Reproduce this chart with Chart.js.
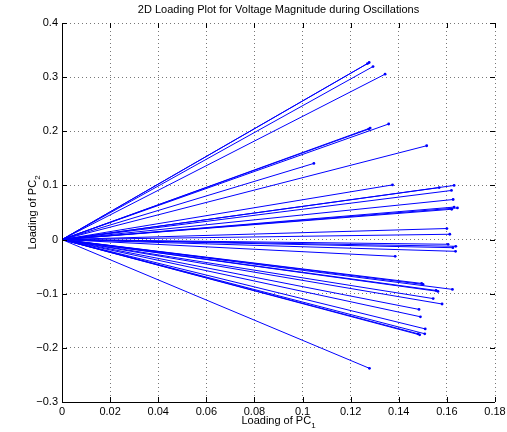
<!DOCTYPE html>
<html>
<head>
<meta charset="utf-8">
<script src="https://cdn.jsdelivr.net/npm/chart.js@4"></script>
<style>
  html, body { margin: 0; padding: 0; background: #fff; }
  #wrap { width: 507px; height: 432px; }
</style>
</head>
<body>
<div id="wrap"><canvas id="c" width="507" height="432"></canvas></div>
<script>
(function () {
	'use strict';

	// loadings (one line per variable, from the origin)
	var pc1Loadings = [
		0.1277, 0.1270, 0.1293, 0.1343, 0.1281, 0.1275, 0.1358, 0.1047, 0.1516,
		0.1374, 0.1630, 0.1619, 0.1568, 0.1626, 0.1644, 0.1620, 0.1630,
		0.1600, 0.1612, 0.1605, 0.1637, 0.1636, 0.1625, 0.1385,
		0.1501, 0.1495, 0.1623, 0.1563, 0.1555, 0.1543, 0.1580, 0.1484,
		0.1490, 0.1510, 0.1508, 0.1487, 0.1480, 0.1278
	];
	var pc2Loadings = [
		0.327, 0.325, 0.3196, 0.3055, 0.206, 0.204, 0.2135, 0.1407, 0.1733,
		0.101, 0.100, 0.0907, 0.096, 0.074, 0.0585, 0.056, 0.060,
		0.0204, 0.0098, -0.0087, -0.0124, -0.0217, -0.015, -0.031,
		-0.0828, -0.081, -0.092, -0.0957, -0.094, -0.109, -0.119, -0.129,
		-0.1426, -0.165, -0.174, -0.176, -0.174, -0.2378
	];
	var xTicks = [0, 0.02, 0.04, 0.06, 0.08, 0.1, 0.12, 0.14, 0.16, 0.18];
	var yTicks = [-0.3, -0.2, -0.1, 0, 0.1, 0.2, 0.3, 0.4];

	var chartTitle = '2D Loading Plot for Voltage Magnitude during Oscillations';
	var xTitle = ['Loading of PC', '1'];
	var yTitle = ['Loading of PC', '2'];
	var fontFamily = '"Liberation Sans", Arial, Helvetica, sans-serif';

	var datasets = pc1Loadings.map(function (x, i) {
		return {
			data: [{x: 0, y: 0}, {x: x, y: pc2Loadings[i]}],
			borderColor: '#0000ff',
			backgroundColor: '#0000ff',
			borderWidth: 1,
			pointRadius: [0, 1.4],
			pointBorderWidth: 0,
			showLine: true,
			fill: false
		};
	});

	function fmt(v) {
		var s = String(parseFloat(v.toFixed(2)));
		return s.charAt(0) === '-' ? '\u2212' + s.slice(1) : s;
	}

	var decor = {
		id: 'decor',
		afterDraw: function (chart) {
			var ctx = chart.ctx, a = chart.chartArea;
			var xs = chart.scales.x, ys = chart.scales.y;
			ctx.save();
			ctx.strokeStyle = '#000';
			ctx.lineWidth = 1;
			ctx.beginPath();
			ctx.moveTo(a.left + 0.5, a.top);
			ctx.lineTo(a.left + 0.5, a.bottom + 0.5);
			ctx.lineTo(a.right, a.bottom + 0.5);
			// inward ticks
			xTicks.forEach(function (t) {
				var px = Math.round(xs.getPixelForValue(t)) + 0.5;
				ctx.moveTo(px, a.bottom);
				ctx.lineTo(px, a.bottom - 5);
				ctx.moveTo(px, a.top);
				ctx.lineTo(px, a.top + 5);
			});
			yTicks.forEach(function (t) {
				var py = Math.round(ys.getPixelForValue(t)) + 0.5;
				ctx.moveTo(a.left, py);
				ctx.lineTo(a.left + 5, py);
				ctx.moveTo(a.right, py);
				ctx.lineTo(a.right - 5, py);
			});
			ctx.stroke();

			ctx.fillStyle = '#000';
			ctx.textBaseline = 'middle';
			ctx.textAlign = 'center';
			ctx.font = '11px ' + fontFamily;
			ctx.fillText(chartTitle, (a.left + a.right) / 2, 10);

			// x title with subscript
			var w1 = ctx.measureText(xTitle[0]).width;
			ctx.font = '8px ' + fontFamily;
			var w2 = ctx.measureText(xTitle[1]).width;
			var cx = (a.left + a.right) / 2 - (w1 + w2) / 2;
			ctx.textAlign = 'left';
			ctx.font = '11px ' + fontFamily;
			ctx.fillText(xTitle[0], cx, 421);
			ctx.font = '8px ' + fontFamily;
			ctx.fillText(xTitle[1], cx + w1, 426);

			// y title rotated
			ctx.translate(33, (a.top + a.bottom) / 2);
			ctx.rotate(-Math.PI / 2);
			ctx.font = '11px ' + fontFamily;
			w1 = ctx.measureText(yTitle[0]).width;
			ctx.font = '8px ' + fontFamily;
			w2 = ctx.measureText(yTitle[1]).width;
			cx = -(w1 + w2) / 2;
			ctx.font = '11px ' + fontFamily;
			ctx.fillText(yTitle[0], cx, 0);
			ctx.font = '8px ' + fontFamily;
			ctx.fillText(yTitle[1], cx + w1, 5);
			ctx.restore();
		}
	};

	new Chart(document.getElementById('c'), {
		type: 'scatter',
		data: {datasets: datasets},
		plugins: [decor],
		options: {
			responsive: false,
			animation: false,
			layout: {padding: {top: 23, right: 12, left: 0, bottom: 0}},
			plugins: {legend: {display: false}, tooltip: {enabled: false}, title: {display: false}},
			scales: {
				x: {
					type: 'linear',
					min: 0, max: 0.18,
					afterBuildTicks: function (s) { s.ticks = xTicks.map(function (v) { return {value: v}; }); },
					afterFit: function (s) { s.height = 30; s.paddingLeft = 0; s.paddingRight = 0; },
					border: {display: false, dash: [1, 3]},
					grid: {color: '#777', lineWidth: 1, drawTicks: false},
					ticks: {
						padding: 3, color: '#000', maxRotation: 0, autoSkip: false,
						font: {family: fontFamily, size: 11},
						callback: function (v) { return fmt(v); }
					}
				},
				y: {
					type: 'linear',
					min: -0.3, max: 0.4,
					afterBuildTicks: function (s) { s.ticks = yTicks.map(function (v) { return {value: v}; }); },
					afterFit: function (s) { s.width = 62; s.paddingTop = 0; s.paddingBottom = 0; },
					border: {display: false, dash: [1, 3]},
					grid: {color: '#777', lineWidth: 1, drawTicks: false},
					ticks: {
						padding: 4, color: '#000', autoSkip: false,
						font: {family: fontFamily, size: 11},
						callback: function (v) { return fmt(v); }
					}
				}
			}
		}
	});
})();
</script>
</body>
</html>
